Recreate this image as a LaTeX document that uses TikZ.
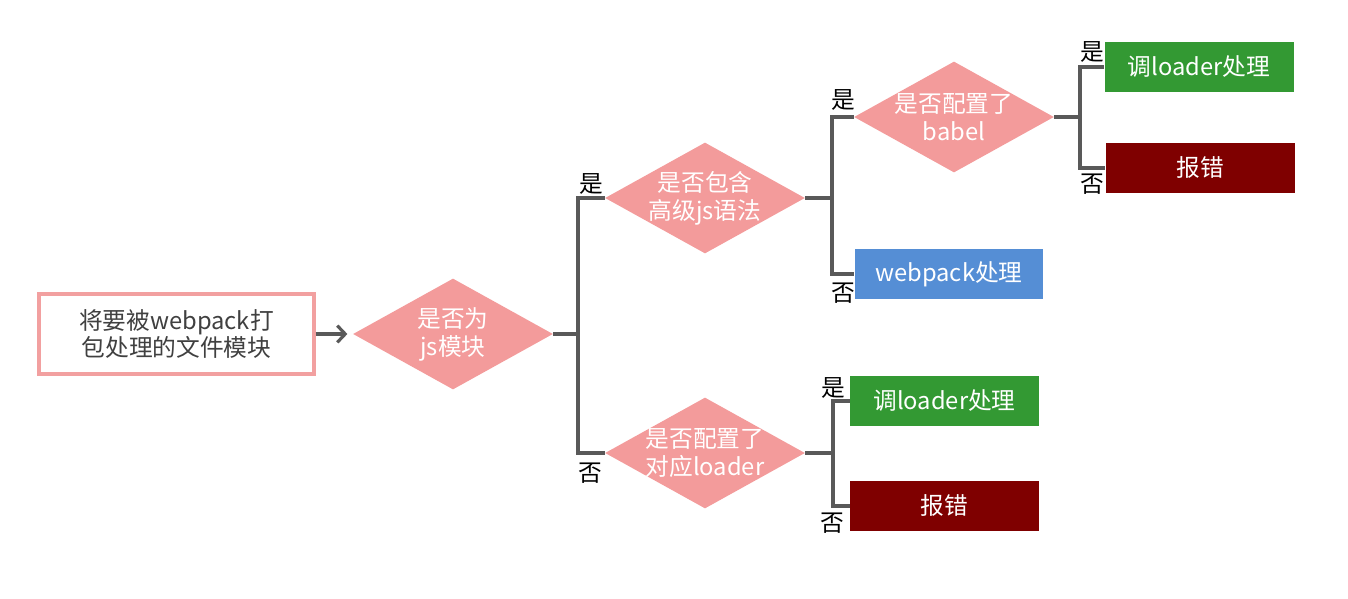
\documentclass[tikz,border=0pt]{standalone}
\usepackage{fontspec}
\setmainfont{Noto Sans CJK SC}
\usetikzlibrary{shapes.geometric,arrows.meta,shadows}
\definecolor{diafill}{HTML}{F39B9B}
\definecolor{startborder}{HTML}{F2A0A0}
\definecolor{linegray}{HTML}{595959}
\definecolor{okgreen}{HTML}{339933}
\definecolor{errred}{HTML}{7F0000}
\definecolor{wpblue}{HTML}{558ED5}
\definecolor{darktext}{HTML}{404040}
\begin{document}
\begin{tikzpicture}[x=0.02cm,y=-0.02cm,
  startbox/.style={draw=startborder, line width=1.8pt, fill=white, minimum width=5.5cm, minimum height=1.6cm,
    inner sep=0pt, align=center, text=darktext, font=\fontsize{13.5}{15.5}\selectfont,
    drop shadow={opacity=0.18, shadow xshift=1.2pt, shadow yshift=-1.2pt}},
  decision/.style={diamond, fill=diafill, minimum width=4cm, minimum height=2.22cm, inner sep=0pt},
  dtext/.style={text=white, align=center, font=\fontsize{13.5}{16}\selectfont},
  outbox/.style={minimum width=3.78cm, minimum height=1cm, inner sep=0pt, text=white,
    font=\fontsize{13.5}{16}\selectfont},
  okbox/.style={outbox, fill=okgreen},
  errbox/.style={outbox, fill=errred},
  wpbox/.style={outbox, fill=wpblue},
  branch/.style={draw=linegray, line width=1.8pt},
  ans/.style={font=\fontsize{13.5}{15}\selectfont, text=black, inner sep=0pt}
]
\useasboundingbox (0,0) rectangle (1348,598);

% nodes
\node[startbox] (start) at (176.5,334) {将要被webpack打\\包处理的文件模块};

\node[decision] (d1) at (453,334) {};
\node[dtext] (t1) at (d1.center) {是否为\\js模块};

\node[decision] (d2) at (705,198) {};
\node[dtext] (t2) at (d2.center) {是否包含\\高级js语法};

\node[decision] (d3) at (705,453) {};
\node[dtext] (t3) at (d3.center) {是否配置了\\对应loader};

\node[decision] (d4) at (954,117) {};
\node[dtext] (t4) at (d4.center) {是否配置了\\babel};

\node[wpbox] (wp) at (949,274) {webpack处理};
\node[okbox] (ok1) at (1199,67) {调loader处理};
\node[errbox] (err1) at (1200,168) {报错};
\node[okbox] (ok2) at (944.5,401) {调loader处理};
\node[errbox] (err2) at (944.5,506) {报错};

% junctions
\coordinate (j1) at (578,334);
\coordinate (j2) at (832,198);
\coordinate (j3) at (833,453);
\coordinate (j4) at (1080,117);

% connectors
\draw[linegray, line width=1.8pt, -{Straight Barb[length=4.5pt,width=9.5pt]}, shorten >=3pt] (start.east) -- (d1.west);

\draw[branch] (d1.east) -- (j1);
\draw[branch] (d2.west) -| (j1) |- (d3.west);

\draw[branch] (d2.east) -- (j2);
\draw[branch] (d4.west) -| (j2) |- (wp.west);

\draw[branch] (d4.east) -- (j4);
\draw[branch] (ok1.west) -| (j4) |- (err1.west);

\draw[branch] (d3.east) -- (j3);
\draw[branch] (ok2.west) -| (j3) |- (err2.west);

% answer labels
\node[ans] (a1y) at (591,184) {是};
\node[ans] (a1n) at (590,473) {否};
\node[ans] (a2y) at (843,100) {是};
\node[ans] (a2n) at (843,293) {否};
\node[ans] (a4y) at (1092,52) {是};
\node[ans] (a4n) at (1092,184) {否};
\node[ans] (a3y) at (833,388) {是};
\node[ans] (a3n) at (832,523) {否};
\end{tikzpicture}
\end{document}
